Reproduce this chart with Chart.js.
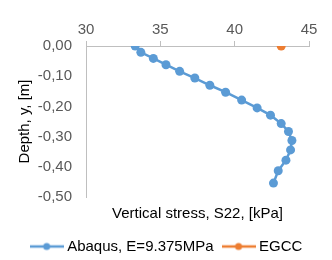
<!DOCTYPE html>
<html>
<head>
  <script src="https://cdn.jsdelivr.net/npm/chart.js"></script>
  <style>
    body { margin: 0; background: #fff; }
    #wrap { width: 332px; height: 260px; }
  </style>
</head>
<body>
  <div id="wrap"><canvas id="stressChart" width="332" height="260"></canvas></div>
  <script>
// values
const abaqusStress = [33.31, 33.69, 34.53, 35.38, 36.30, 37.32, 38.33, 39.39, 40.47,
                      41.51, 42.41, 43.13, 43.62, 43.85, 43.76, 43.45, 42.93, 42.61];
const abaqusDepth  = [0, -0.021, -0.041, -0.062, -0.084, -0.106, -0.130, -0.153, -0.179,
                      -0.205, -0.229, -0.257, -0.283, -0.313, -0.344, -0.378, -0.413, -0.454];
const egccStress = [43.13];
const egccDepth  = [0];

const seriesNames = ['Abaqus, E=9.375MPa', 'EGCC'];
const seriesColors = ['#5B9BD5', '#ED7D31'];

const toPoints = (xs, ys) => xs.map((x, i) => ({ x: x, y: ys[i] }));

// legend icon: line with dot in the middle, like the spreadsheet legend
function legendIcon(color) {
  const c = document.createElement('canvas');
  c.width = 34; c.height = 10;
  const g = c.getContext('2d');
  g.strokeStyle = color; g.lineWidth = 2.5;
  g.beginPath(); g.moveTo(0, 5); g.lineTo(34, 5); g.stroke();
  g.fillStyle = color;
  g.beginPath(); g.arc(17, 5, 3.5, 0, Math.PI * 2); g.fill();
  return c;
}

const tickColor = '#595959';
const axisColor = '#BFBFBF';
const font = { family: 'Liberation Sans, Arial, sans-serif', size: 15 };

new Chart(document.getElementById('stressChart'), {
  type: 'line',
  data: {
    datasets: [{
      label: seriesNames[0],
      data: toPoints(abaqusStress, abaqusDepth),
      borderColor: seriesColors[0],
      backgroundColor: seriesColors[0],
      borderWidth: 2.5,
      pointRadius: 4.5,
      pointBorderWidth: 0,
      pointHoverRadius: 4.5,
      showLine: true,
      fill: false
    }, {
      label: seriesNames[1],
      data: toPoints(egccStress, egccDepth),
      borderColor: seriesColors[1],
      backgroundColor: seriesColors[1],
      borderWidth: 2.5,
      pointRadius: 4.5,
      pointBorderWidth: 0,
      pointHoverRadius: 4.5,
      showLine: false
    }]
  },
  options: {
    responsive: false,
    animation: false,
    layout: { padding: { left: 4, right: 0, top: 19, bottom: -4 } },
    scales: {
      x: {
        type: 'linear',
        position: 'top',
        min: 30, max: 45,
        ticks: { stepSize: 5, color: tickColor, font: font, padding: 2 },
        grid: { drawOnChartArea: false, drawTicks: true, tickLength: 5, color: axisColor },
        border: { color: axisColor }
      },
      xTitle: {
        type: 'linear',
        position: 'bottom',
        min: 30, max: 45,
        ticks: { display: false },
        grid: { display: false },
        border: { display: false },
        title: { display: true, text: 'Vertical stress, S22, [kPa]', color: '#000', font: font, padding: { top: 0, bottom: 4 } }
      },
      y: {
        type: 'linear',
        min: -0.5, max: 0,
        ticks: {
          stepSize: 0.1, color: tickColor, font: font, padding: 14,
          callback: v => v.toFixed(2).replace('.', ',')
        },
        grid: { drawOnChartArea: false, drawTicks: false, color: axisColor },
        border: { color: axisColor },
        title: { display: true, text: 'Depth, y, [m]', color: '#000', font: font, padding: { top: 12, bottom: -8 } }
      },
      // empty strip on the right so the plot ends where the reference does
      yRight: {
        type: 'linear',
        position: 'right',
        ticks: { display: false },
        grid: { display: false },
        border: { display: false },
        afterFit: s => { s.width = 23; }
      }
    },
    plugins: {
      tooltip: { enabled: false },
      legend: {
        position: 'bottom',
        labels: {
          color: '#000',
          font: font,
          usePointStyle: true,
          pointStyleWidth: 26,
          boxHeight: 10,
          padding: 12,
          generateLabels: chart => chart.data.datasets.map((ds, i) => ({
            text: ds.label,
            fontColor: '#000',
            pointStyle: legendIcon(seriesColors[i]),
            datasetIndex: i,
            hidden: false,
            lineWidth: 0
          }))
        }
      }
    }
  }
});
  </script>
</body>
</html>
